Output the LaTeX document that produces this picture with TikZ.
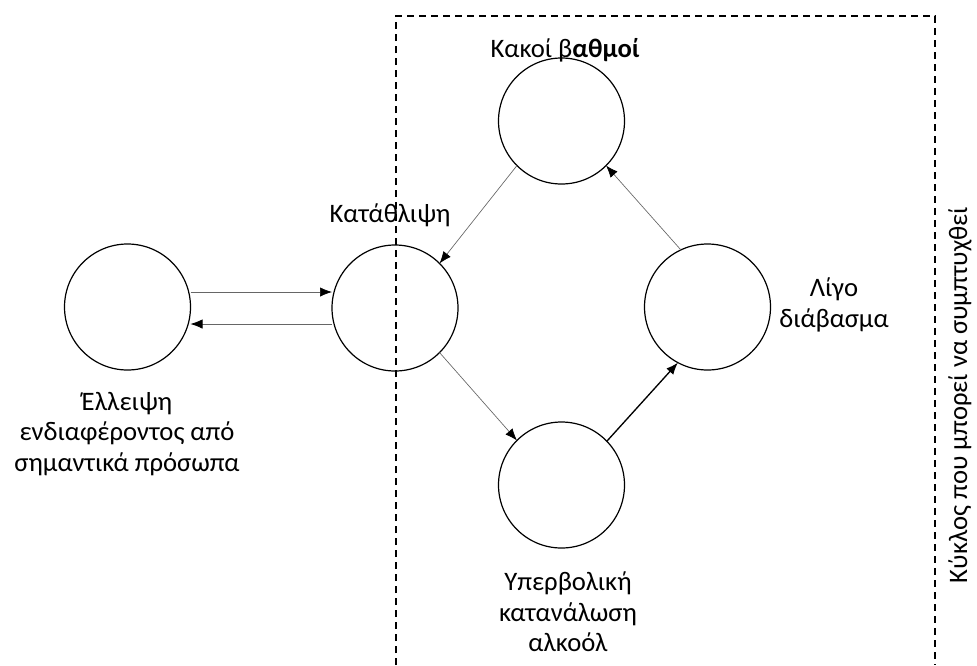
\documentclass[tikz,border=0pt]{standalone}
\usepackage{fontspec}
\setmainfont{Carlito}
\usetikzlibrary{arrows.meta}

\tikzset{
  state/.style={circle, draw=black, line width=0.9pt, minimum size=94.5pt, inner sep=0pt, outer sep=0pt},
  lbl/.style={align=center, font=\fontsize{20}{23}\selectfont, inner sep=0pt},
  link/.style={draw=black!60, line width=0.5pt, -{Latex[length=9pt, width=7pt, black]}},
  boldlink/.style={draw=black, line width=1pt, -{Latex[length=9pt, width=7pt]}},
  frame/.style={draw=black, line width=0.8pt, dash pattern=on 5.5pt off 3.5pt}
}

\begin{document}
\begin{tikzpicture}[x=0.75pt, y=-0.75pt]
  \useasboundingbox (0,0) rectangle (977,665);

  % dashed frame around the cycle (open at the bottom)
  \coordinate (fbl) at (396,665);
  \coordinate (ftl) at (396,16);
  \coordinate (ftr) at (935,16);
  \coordinate (fbr) at (935,665);
  \draw[frame] (fbl) -- (ftl) -- (ftr) -- (fbr);

  % states
  \node[state] (lack) at (127.5,307) {};
  \node[state] (dep)  at (395,308) {};
  \node[state] (bad)  at (561.5,121) {};
  \node[state] (read) at (707.5,307) {};
  \node[state] (alc)  at (561.5,485) {};

  % labels
  \node[lbl] (tlack) at (127,434) {Έλλειψη\\ενδιαφέροντος από\\σημαντικά πρόσωπα};
  \node[lbl] (tdep)  at (390,215) {Κατάθλιψη};
  \node[lbl] (tbad)  at (565,50) {Κακοί β\textbf{αθμοί}};
  \node[lbl] (tread) at (834,305) {Λίγο\\διάβασμα};
  \node[lbl] (talc)  at (568,612) {Υπερβολική\\κατανάλωση\\αλκοόλ};
  \node[lbl, rotate=90] (tcyc) at (960,395) {Κύκλος που μπορεί να συμπτυχθεί};

  % connectors
  \draw[link] (lack.east |- 0,292) -- (dep.west |- 0,292);
  \draw[link] (dep.west |- 0,324) -- (lack.east |- 0,324);
  \draw[link] (bad.225.6) -- (dep.45);
  \draw[link] (dep.-45.6) -- (alc.135);
  \draw[boldlink] (alc.44.7) -- (read.242);
  \draw[link] (read.115.4) -- (bad.-45.3);
\end{tikzpicture}
\end{document}
